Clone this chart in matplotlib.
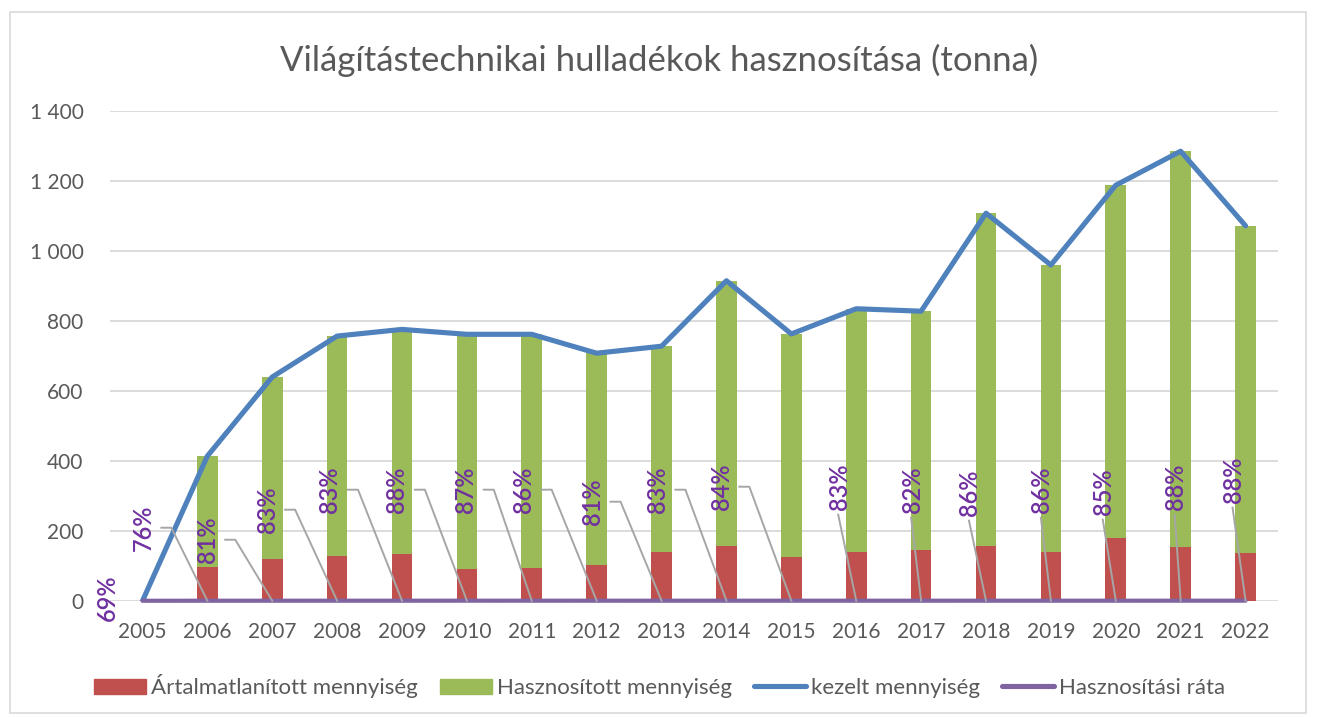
# Világítástechnikai hulladékok hasznosítása - bar + line chart
import matplotlib
matplotlib.use('Agg')
import matplotlib.pyplot as plt
from matplotlib.patches import Patch, Rectangle
from matplotlib.lines import Line2D
from matplotlib.ticker import FuncFormatter

plt.rcParams['font.family'] = ['Lato', 'DejaVu Sans']

# data
years = ['2005', '2006', '2007', '2008', '2009', '2010', '2011', '2012', '2013',
         '2014', '2015', '2016', '2017', '2018', '2019', '2020', '2021', '2022']
artalmatlanitott = [0, 98, 120, 128, 135, 91, 95, 102, 139,
                    158, 125, 139, 146, 158, 139, 179, 154, 136]
hasznositott = [0, 316, 520, 629, 641, 671, 667, 606, 589,
                757, 638, 696, 682, 950, 821, 1009, 1131, 936]
kezelt = [0, 414, 640, 757, 776, 762, 762, 708, 728,
          915, 763, 835, 828, 1108, 960, 1188, 1285, 1072]
rata = [0.69, 0.76, 0.81, 0.83, 0.83, 0.88, 0.87, 0.86, 0.81,
        0.83, 0.84, 0.83, 0.82, 0.86, 0.86, 0.85, 0.88, 0.88]

# label placement (pixel offsets from the point, as moved by hand in the original)
label_dx = [-35, -64, -65, -70, -72, -70, -66, -73, -69,
            -69, -70, -17, -9, -16, -9, -12, -5, -12]
label_dy = [3, 73, 61, 91, 111, 111, 111, 111, 99,
            111, 114, 114, 111, 108, 111, 109, 114, 121]

RED = '#C0504D'
GREEN = '#9BBB59'
BLUE = '#4F81BD'
PURPLE = '#8064A2'
LABEL = '#7030A0'
GREY_TXT = '#595959'
LEADER = '#A6A6A6'

W, H = 1319, 717
fig = plt.figure(figsize=(W / 100, H / 100), dpi=100)
ax = fig.add_axes([110 / W, (H - 601) / H, (1278 - 110) / W, (601 - 111) / H])

x = list(range(len(years)))
ax.bar(x, artalmatlanitott, width=0.32, color=RED, zorder=2)
ax.bar(x, hasznositott, width=0.32, bottom=artalmatlanitott, color=GREEN, zorder=2)
ax.plot(x, kezelt, color=BLUE, lw=3.7, solid_joinstyle='round',
        solid_capstyle='round', zorder=4)
ax.plot(x, rata, color=PURPLE, lw=3.0, solid_capstyle='round', zorder=4,
        clip_on=False)

ax.set_xlim(-0.5, len(years) - 0.5)
ax.set_ylim(0, 1400)
ax.set_yticks(range(0, 1401, 200))
ax.yaxis.set_major_formatter(FuncFormatter(lambda v, p: f'{int(v):,}'.replace(',', ' ')))
ax.set_xticks(x)
ax.set_xticklabels(years)
ax.tick_params(axis='both', length=0, labelsize=15, labelcolor=GREY_TXT)
ax.tick_params(axis='y', pad=19)
ax.tick_params(axis='x', pad=15)
ax.grid(axis='y', color='#D9D9D9', lw=1.3, zorder=0)
ax.set_axisbelow(True)
for s in ax.spines.values():
    s.set_visible(False)

# data labels with leader lines
inv = ax.transData.inverted()
for i in x:
    px, py = ax.transData.transform((i, rata[i]))
    dx, dy = label_dx[i], label_dy[i]
    ax.annotate(f'{round(rata[i] * 100)}%', xy=(i, rata[i]), xytext=(dx, dy),
                textcoords='offset pixels', rotation=90, ha='center', va='center',
                color=LABEL, fontsize=17, fontweight='semibold', zorder=6,
                annotation_clip=False)
    if i == 0:
        continue
    cx, cy = px + dx, py + dy
    if dx < -40:
        pts = [(cx + 18, cy), (cx + 28, cy), (px, py)]
    else:
        pts = [(cx - 1, cy - 28), (px, py)]
    d = inv.transform(pts)
    ax.plot(d[:, 0], d[:, 1], color=LEADER, lw=1.4, zorder=5, clip_on=False)

fig.text(0.5, (H - 60) / H, 'Világítástechnikai hulladékok hasznosítása (tonna)',
         ha='center', va='center', fontsize=25, color=GREY_TXT)

handles = [Patch(color=RED), Patch(color=GREEN),
           Line2D([], [], color=BLUE, lw=3.7, solid_capstyle='round'),
           Line2D([], [], color=PURPLE, lw=3.7, solid_capstyle='round')]
names = ['Ártalmatlanított mennyiség', 'Hasznosított mennyiség',
         'kezelt mennyiség', 'Hasznosítási ráta']
leg = fig.legend(handles, names, loc='center', bbox_to_anchor=(0.5, (H - 686) / H),
                 ncol=4, frameon=False, fontsize=16, handlelength=2.35,
                 handleheight=0.65, handletextpad=0.22, columnspacing=1.0)
for t in leg.get_texts():
    t.set_color(GREY_TXT)

fig.patches.append(Rectangle((10 / W, 4 / H), (1306 - 10) / W, (705 - 4) / H,
                             transform=fig.transFigure, fill=False,
                             edgecolor='#D9D9D9', lw=1.2))

fig.savefig('out.png', dpi=100)
